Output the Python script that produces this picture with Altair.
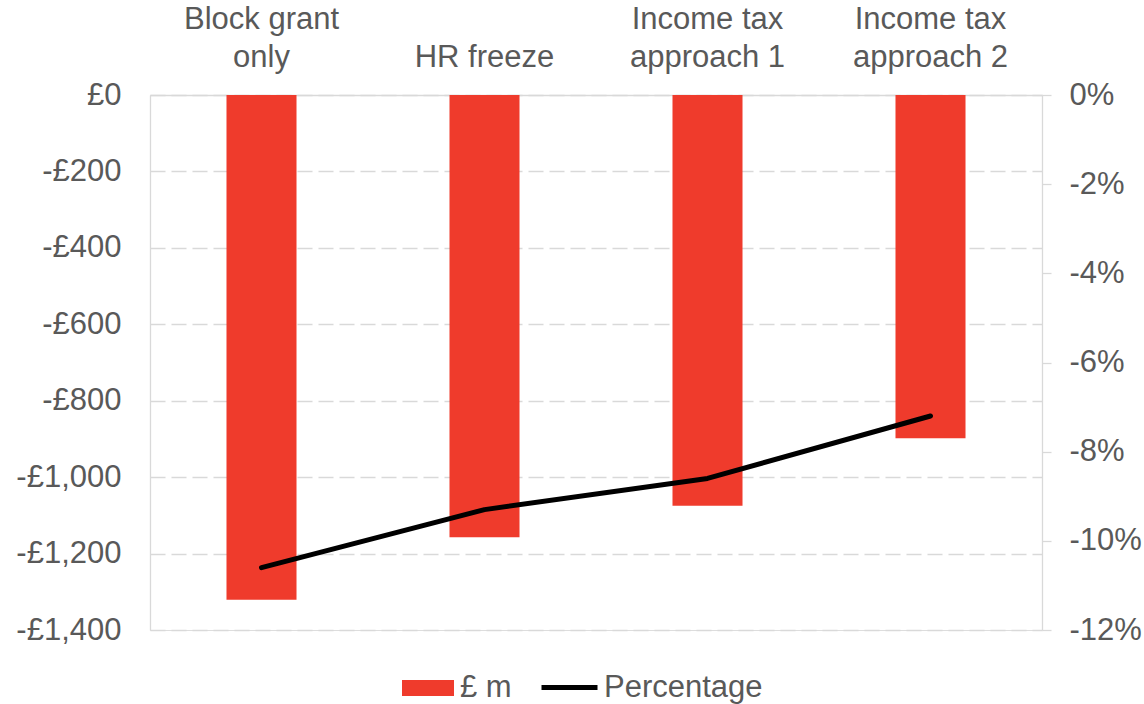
import altair as alt
import pandas as pd

# Scenarios shown along the top axis ("\n" marks the label line break)
categories = [
    "Block grant\nonly",
    "HR freeze",
    "Income tax\napproach 1",
    "Income tax\napproach 2",
]
# Change in funding, £ million
amount_m = [-1321, -1157, -1075, -898]
# Change as a share of the budget
percentage = [-0.106, -0.093, -0.086, -0.072]
amount_label = ["£ m"] * len(categories)
pct_label = ["Percentage"] * len(categories)

left_ticks = [0, -200, -400, -600, -800, -1000, -1200, -1400]
right_ticks = [0, -0.02, -0.04, -0.06, -0.08, -0.10, -0.12]

df = pd.DataFrame({
    "category": categories,
    "amount": amount_m,
    "pct": percentage,
    "amount_series": amount_label,
    "pct_series": pct_label,
})

FONT = "Liberation Sans"
TEXT = "#595959"
GRID = "#D9D9D9"
RED = "#EF3B2C"
FS = 31

# Two-line labels; single-line ones sit on the lower line
label_expr = (
    "length(split(datum.label, '\\n')) > 1 "
    "? split(datum.label, '\\n') : ['', datum.label]"
)

x = alt.X(
    "category:N",
    sort=categories,
    scale=alt.Scale(paddingInner=0.686, paddingOuter=0.343),
    axis=alt.Axis(
        orient="top",
        title=None,
        labelAngle=0,
        labelExpr=label_expr,
        labelLineHeight=37.5,
        labelBaseline="bottom",
        labelPadding=59.5,
        ticks=False,
        tickSize=0,
        domain=True,
        domainColor=GRID,
        domainWidth=1.3,
        grid=False,
        labelFontSize=FS,
        labelColor=TEXT,
        labelFont=FONT,
        labelLimit=400,
    ),
)

bars = alt.Chart(df).mark_bar(color=RED).encode(
    x=x,
    y=alt.Y(
        "amount:Q",
        scale=alt.Scale(domain=[-1400, 0], nice=False),
        axis=alt.Axis(
            orient="left",
            title=None,
            values=left_ticks,
            labelExpr="datum.value == 0 ? '£0' : '-£' + format(abs(datum.value), ',')",
            ticks=False,
            tickSize=0,
            labelPadding=29,
            domain=True,
            domainColor=GRID,
            domainWidth=1.3,
            grid=True,
            gridColor=GRID,
            gridWidth=1.3,
            gridDash=[15, 6],
            labelFontSize=FS,
            labelColor=TEXT,
            labelFont=FONT,
        ),
    ),
    color=alt.Color(
        "amount_series:N",
        scale=alt.Scale(domain=["£ m"], range=[RED]),
        legend=alt.Legend(
            orient="none",
            legendX=252,
            legendY=567,
            title=None,
            padding=0,
            symbolType="M-1,-0.31H1V0.31H-1Z",
            symbolSize=2704,
            symbolStrokeWidth=0,
            labelOffset=6,
            labelFontSize=FS,
            labelColor=TEXT,
            labelFont=FONT,
        ),
    ),
)

line = alt.Chart(df).mark_line(
    color="black", strokeWidth=5, strokeCap="round", strokeJoin="round"
).encode(
    x=x,
    y=alt.Y(
        "pct:Q",
        scale=alt.Scale(domain=[-0.12, 0], nice=False),
        axis=alt.Axis(
            orient="right",
            title=None,
            values=right_ticks,
            labelExpr="(datum.value < -0.0001 ? '-' : '') + format(abs(datum.value) * 100, '.0f') + '%'",
            ticks=True,
            tickSize=9,
            tickColor=GRID,
            tickWidth=1.3,
            labelPadding=18,
            domain=True,
            domainColor=GRID,
            domainWidth=1.3,
            grid=False,
            labelFontSize=FS,
            labelColor=TEXT,
            labelFont=FONT,
        ),
    ),
    stroke=alt.Stroke(
        "pct_series:N",
        scale=alt.Scale(domain=["Percentage"], range=["black"]),
        legend=alt.Legend(
            orient="none",
            legendX=389,
            legendY=562,
            title=None,
            padding=0,
            symbolType="stroke",
            symbolSize=3136,
            symbolStrokeWidth=5,
            labelOffset=4,
            labelFontSize=FS,
            labelColor=TEXT,
            labelFont=FONT,
        ),
    ),
)

chart = (
    alt.layer(bars, line)
    .resolve_scale(y="independent")
    .properties(
        width=892,
        height=535,
        autosize=alt.AutoSizeParams(type="none"),
        padding={"left": 150, "top": 95, "right": 102, "bottom": 74},
    )
    .configure_view(stroke=None)
    .configure(background="white")
)

chart.save("out.html", embed_options={"renderer": "svg", "actions": False})
